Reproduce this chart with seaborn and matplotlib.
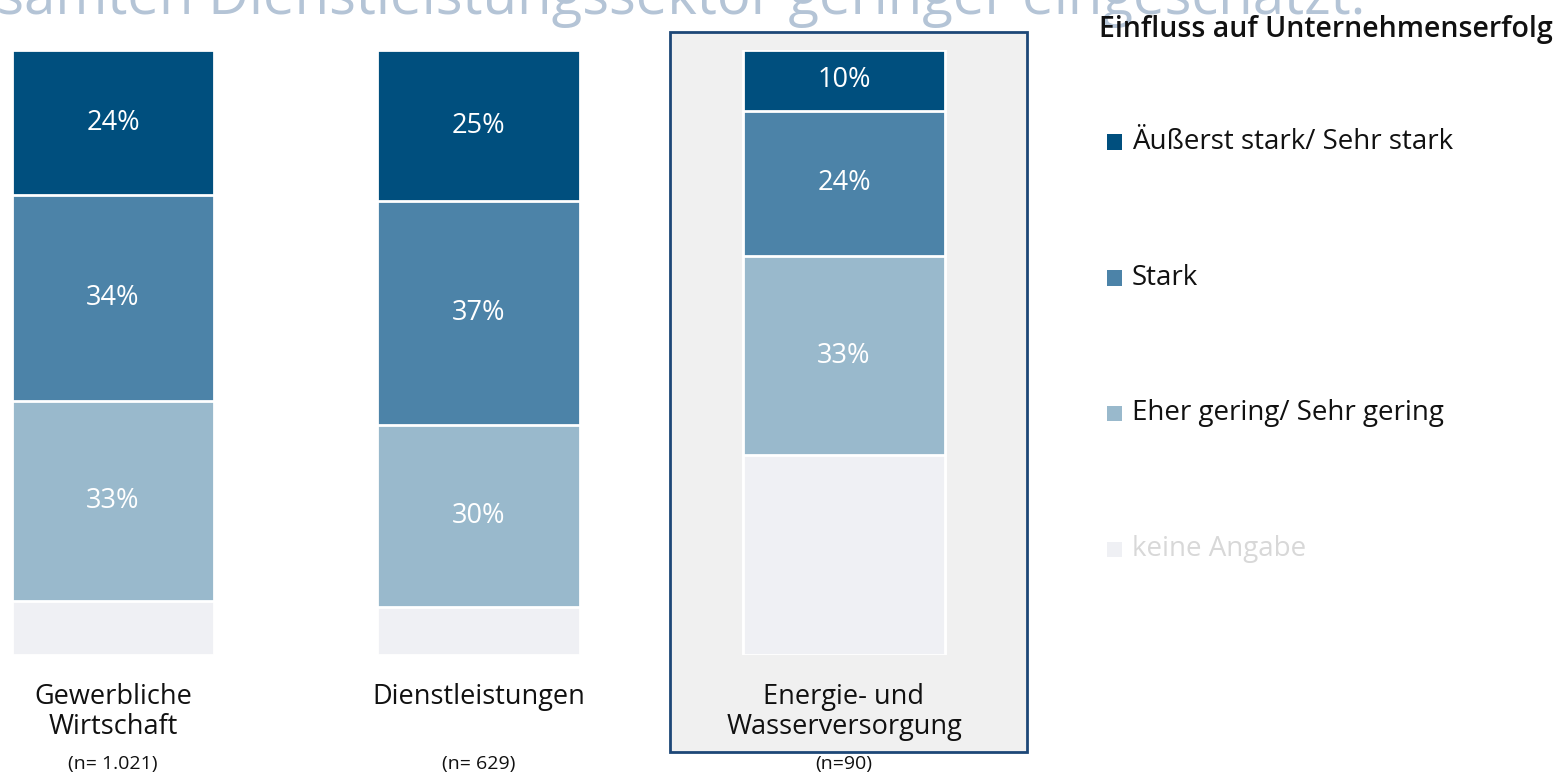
import numpy as np
import pandas as pd
import matplotlib
matplotlib.use("Agg")
import matplotlib.pyplot as plt
import matplotlib.transforms as mtransforms
from matplotlib.patches import Rectangle
import seaborn as sns

# data
categories = ["Gewerbliche\nWirtschaft", "Dienstleistungen", "Energie- und\nWasserversorgung"]
n_labels = ["(n= 1.021)", "(n= 629)", "(n=90)"]
series_names = ["Äußerst stark/ Sehr stark", "Stark", "Eher gering/ Sehr gering", "keine Angabe"]
sehr_stark = [24, 25, 10]
stark = [34, 37, 24]
gering = [33, 30, 33]
keine_angabe = [9, 8, 33]
show_label = [True, True, True, False]

colors = ["#004F7E", "#4C83A8", "#99B9CC", "#EFF0F4"]
legend_text_colors = ["#111111", "#111111", "#111111", "#D8D8D8"]

W, H = 1566, 780

sns.set_theme(style="white")
plt.rcParams["font.family"] = ["Open Sans", "DejaVu Sans"]

fig = plt.figure(figsize=(W / 100, H / 100), dpi=100)


def fx(px):
    return px / W


def fy(py):
    return 1 - py / H


# highlight box behind third bar
fig.patches.append(Rectangle((fx(670), fy(752)), fx(357), 720 / H,
                             transform=fig.transFigure, facecolor="#F0F0F0",
                             edgecolor="#1D4777", linewidth=2, zorder=-5))

ax = fig.add_axes([0, fy(655), fx(1060), 605 / H])
ax.patch.set_alpha(0)

# stack from bottom: keine Angabe, gering, stark, sehr stark
layers = [keine_angabe, gering, stark, sehr_stark]
cum = np.cumsum(np.array(layers), axis=0)
# draw the tallest first so the lower ones sit on top
for i in range(len(layers) - 1, -1, -1):
    df = pd.DataFrame({"cat": categories, "val": cum[i]})
    sns.barplot(data=df, x="cat", y="val", order=categories, color=colors[3 - i],
                saturation=1, width=0.553, edgecolor="white", linewidth=2, ax=ax)

# percent labels
for i in range(len(layers)):
    if not show_label[3 - i]:
        continue
    for j in range(len(categories)):
        v = layers[i][j]
        ax.text(j, cum[i][j] - v / 2, f"{v}%", ha="center", va="center",
                color="white", fontsize=19.5)

ax.set_xlim(-113 / 365.5, (1060 - 113) / 365.5)
ax.set_ylim(0, 100)
ax.set_xlabel("")
ax.set_ylabel("")
ax.set_yticks([])
ax.tick_params(axis="x", length=0, pad=20, labelsize=19.5, labelcolor="#111111")
ax.set_xticks(range(len(categories)))
ax.set_xticklabels(categories, linespacing=1.1)
sns.despine(ax=ax, left=True, bottom=True)

trans = mtransforms.blended_transform_factory(ax.transData, ax.transAxes)
for j, lab in enumerate(n_labels):
    ax.text(j, -(764 - 655) / 605, lab, transform=trans, ha="center", va="center",
            fontsize=14, color="#111111")

# clipped headline at top
fig.text(fx(1365), fy(14), "gesamten Dienstleistungssektor geringer eingeschätzt.",
         ha="right", va="baseline", fontsize=40.5, color="#B4C4D6")

# legend
fig.text(fx(1099), fy(30), "Einfluss auf Unternehmenserfolg", ha="left", va="center",
         fontsize=20.5, fontweight="semibold", color="#111111")
legend_y = [142, 278, 413, 549]
for name, c, tc, y in zip(series_names, colors, legend_text_colors, legend_y):
    fig.patches.append(Rectangle((fx(1107), fy(y + 7.5)), fx(15), 15 / H,
                                 transform=fig.transFigure, facecolor=c, edgecolor="none"))
    fig.text(fx(1132), fy(y), name, ha="left", va="center", fontsize=20, color=tc)

fig.savefig("out.png", dpi=100)
